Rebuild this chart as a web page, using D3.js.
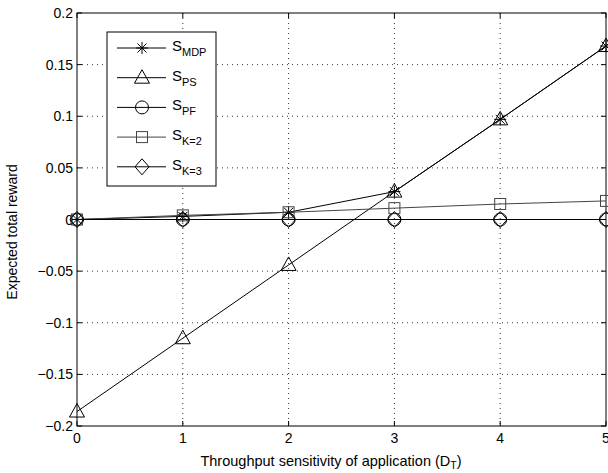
<!DOCTYPE html>
<html>
<head>
<meta charset="utf-8">
<script src="https://cdn.jsdelivr.net/npm/d3@7"></script>
<style>
  body { margin: 0; background: #fff; }
  text { font-family: "Liberation Sans", Arial, sans-serif; }
</style>
</head>
<body>
<div id="chart"></div>
<script>
var xValues = [0, 1, 2, 3, 4, 5];
var sMDP = [0, 0.003, 0.007, 0.027, 0.097, 0.168];
var sPS = [-0.186, -0.115, -0.044, 0.027, 0.097, 0.168];
var sPF = [0, 0, 0, 0, 0, 0];
var sK2 = [0, 0.004, 0.007, 0.011, 0.015, 0.018];
var sK3 = [0, 0, 0, 0, 0, 0];
var xTicks = [0, 1, 2, 3, 4, 5];
var yTicks = [-0.2, -0.15, -0.1, -0.05, 0, 0.05, 0.1, 0.15, 0.2];

var series = [
  { name: "MDP", values: sMDP, marker: "star", color: "#000" },
  { name: "PS", values: sPS, marker: "triangle", color: "#000" },
  { name: "PF", values: sPF, marker: "circle", color: "#000" },
  { name: "K=2", values: sK2, marker: "square", color: "#444" },
  { name: "K=3", values: sK3, marker: "diamond", color: "#000" }
];

var width = 608, height = 473;
var pLeft = 77, pRight = 606, pTop = 13, pBottom = 426;

var x = d3.scaleLinear().domain([0, 5]).range([pLeft, pRight]);
var y = d3.scaleLinear().domain([-0.2, 0.2]).range([pBottom, pTop]);

var svg = d3.select("#chart").append("svg")
  .attr("width", width)
  .attr("height", height);

// grid
var grid = svg.append("g").attr("stroke", "#000").attr("stroke-width", 0.8)
  .attr("stroke-dasharray", "1,4");
grid.selectAll(".gx").data(xTicks.slice(1, -1)).enter().append("line")
  .attr("x1", d => x(d)).attr("x2", d => x(d))
  .attr("y1", pTop).attr("y2", pBottom);
grid.selectAll(".gy").data(yTicks.slice(1, -1)).enter().append("line")
  .attr("x1", pLeft).attr("x2", pRight)
  .attr("y1", d => y(d)).attr("y2", d => y(d));

// axes (ticks pointing inward, MATLAB style)
var fmt = function(d) { return d === 0 ? "0" : String(d).replace("-", "\u2212"); };
var tickLen = 5;
var ax = svg.append("g").attr("stroke", "#000").attr("stroke-width", 1);
ax.selectAll(".tx").data(xTicks).enter().append("path")
  .attr("d", d => "M" + x(d) + "," + pBottom + "v" + (-tickLen) + "M" + x(d) + "," + pTop + "v" + tickLen);
ax.selectAll(".ty").data(yTicks).enter().append("path")
  .attr("d", d => "M" + pLeft + "," + y(d) + "h" + tickLen + "M" + pRight + "," + y(d) + "h" + (-tickLen));
svg.append("rect")
  .attr("x", pLeft).attr("y", pTop)
  .attr("width", pRight - pLeft).attr("height", pBottom - pTop)
  .attr("fill", "none").attr("stroke", "#000").attr("stroke-width", 1);

svg.selectAll(".xl").data(xTicks).enter().append("text")
  .attr("x", d => x(d)).attr("y", pBottom + 17)
  .attr("text-anchor", "middle").attr("font-size", 14)
  .text(fmt);
svg.selectAll(".yl").data(yTicks).enter().append("text")
  .attr("x", pLeft - 4).attr("y", d => y(d) + 5)
  .attr("text-anchor", "end").attr("font-size", 14)
  .text(fmt);

// axis titles
var xt = svg.append("text")
  .attr("x", 331).attr("y", 466)
  .attr("text-anchor", "middle").attr("font-size", 14.5);
xt.append("tspan").text("Throughput sensitivity of application (D");
xt.append("tspan").attr("font-size", 10.5).attr("dy", 3).text("T");
xt.append("tspan").attr("dy", -3).text(")");

svg.append("text")
  .attr("transform", "translate(17,232) rotate(-90)")
  .attr("text-anchor", "middle").attr("font-size", 14)
  .text("Expected total reward");

// markers
function drawMarker(g, type, cx, cy, color) {
  var m = g.append("g").attr("transform", "translate(" + cx + "," + cy + ")")
    .attr("fill", "none").attr("stroke", color).attr("stroke-width", 1);
  if (type === "star") {
    m.append("path").attr("d", "M-6,0H6M0,-6V6M-4.5,-4.5L4.5,4.5M-4.5,4.5L4.5,-4.5");
  } else if (type === "triangle") {
    m.append("path").attr("d", "M0,-8L7.5,5.5H-7.5Z");
  } else if (type === "circle") {
    m.append("circle").attr("r", 6.5);
  } else if (type === "square") {
    m.append("rect").attr("x", -5.5).attr("y", -5.5).attr("width", 11).attr("height", 11);
  } else if (type === "diamond") {
    m.append("path").attr("d", "M0,-8L7,0L0,8L-7,0Z");
  }
}

var line = d3.line().x((d, i) => x(xValues[i])).y(d => y(d));
var plot = svg.append("g");
series.forEach(function(s) {
  plot.append("path").datum(s.values)
    .attr("d", line)
    .attr("fill", "none").attr("stroke", s.color).attr("stroke-width", 1);
  s.values.forEach(function(v, i) {
    drawMarker(plot, s.marker, x(xValues[i]), y(v), s.color);
  });
});

// legend
var lg = svg.append("g");
lg.append("rect").attr("x", 107).attr("y", 32).attr("width", 109).attr("height", 154)
  .attr("fill", "#fff").attr("stroke", "#000").attr("stroke-width", 1);
series.forEach(function(s, i) {
  var ly = 48 + i * 29.7;
  lg.append("line").attr("x1", 117).attr("x2", 166).attr("y1", ly).attr("y2", ly)
    .attr("stroke", s.color).attr("stroke-width", 1);
  drawMarker(lg, s.marker, 142, ly, s.color);
  var t = lg.append("text").attr("x", 172).attr("y", ly + 3).attr("font-size", 15);
  t.append("tspan").text("S");
  t.append("tspan").attr("font-size", 11).attr("dy", 5).text(s.name);
});
</script>
</body>
</html>
